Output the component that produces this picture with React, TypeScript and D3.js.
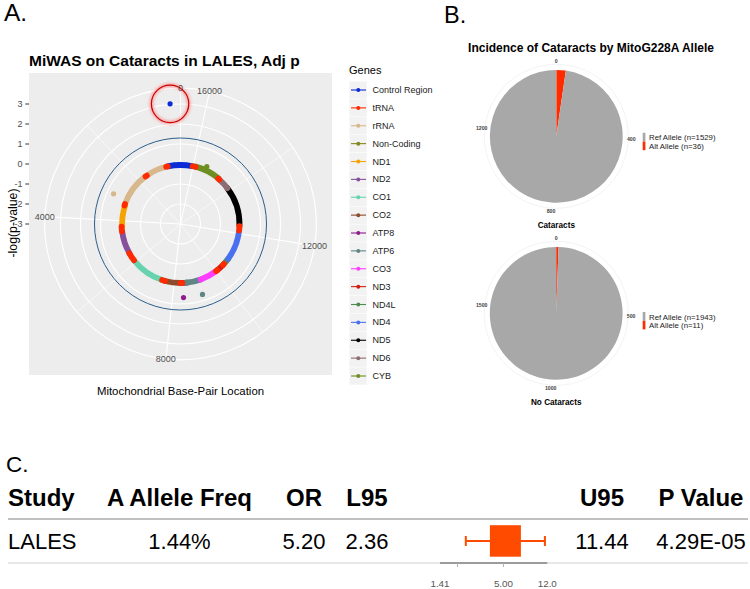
import React from "react";
import * as d3 from "d3";

// ---------- Panel A data ----------
const GENOME_LEN = 16569;
const GENES = ["Control Region", "tRNA", "rRNA", "Non-Coding", "ND1", "ND2", "CO1", "CO2", "ATP8", "ATP6", "CO3", "ND3", "ND4L", "ND4", "ND5", "ND6", "CYB"];
const GENE_COLORS = ["#0A2BD6", "#FF2A00", "#D8B78C", "#86881C", "#F5A300", "#86509A", "#66D2AE", "#8E4C2A", "#8E1E8E", "#5F8585", "#FF3DFF", "#D01E10", "#4E8C4E", "#4A70F0", "#000000", "#8E6D72", "#6E8E22"];

const SEG_GENE = ["Control Region", "rRNA", "rRNA", "ND1", "ND2", "CO1", "CO2", "ATP8", "ATP6", "CO3", "ND3", "ND4L", "ND4", "ND5", "ND6", "CYB", "Control Region",
  "tRNA", "tRNA", "tRNA", "tRNA", "tRNA", "tRNA", "tRNA", "tRNA", "tRNA", "tRNA", "tRNA", "tRNA"];
const SEG_START = [1, 648, 1671, 3307, 4470, 5904, 7586, 8366, 8527, 9207, 10059, 10470, 10760, 12337, 14149, 14747, 16024,
  577, 1602, 3230, 4263, 5512, 7446, 8295, 9991, 10405, 12138, 14674, 15888];
const SEG_END = [576, 1601, 3229, 4262, 5511, 7445, 8269, 8572, 9207, 9990, 10404, 10766, 12137, 14148, 14673, 15887, 16569,
  647, 1670, 3304, 4469, 5891, 7585, 8364, 10058, 10469, 12336, 14742, 16023];
const SEG_LOGP = [-0.05, -0.05, -0.05, -0.08, -0.06, -0.05, -0.05, -0.05, -0.05, -0.05, -0.05, -0.05, -0.05, -0.05, -0.05, -0.03, -0.05,
  -0.05, -0.05, -0.05, -0.05, -0.05, -0.05, -0.05, -0.05, -0.05, -0.05, -0.05, -0.05];

const PT_GENE = ["rRNA", "ATP8", "ATP6", "CYB", "Control Region"];
const PT_POS = [3024, 8392, 9082, 15437, 228];
const PT_LOGP = [0.67, 0.68, 0.69, 0.16, 3.03];

const R_BREAKS = [-3, -2, -1, 0, 1, 2, 3];
const THETA_MAJOR = [0, 4000, 8000, 12000, 16000];
const THETA_MINOR = [2000, 6000, 10000, 14000];
const SIG_LOGP = 1.3;
const HIGHLIGHT_POS = 228;
const HIGHLIGHT_LOGP = 3.03;

// ---------- Panel B data ----------
const PIE_GROUPS = ["Cataracts", "No Cataracts"];
const REF_COUNTS = [1529, 1943];
const ALT_COUNTS = [36, 11];
const PIE_TICKS = [[0, 400, 800, 1200], [0, 500, 1000, 1500]];
const PIE_COLORS = { ref: "#A8A8A8", alt: "#FF2A00" };

// ---------- Panel C data ----------
const HEADERS = ["Study", "A Allele Freq", "OR", "L95", "", "U95", "P Value"];
const STUDY = ["LALES"];
const FREQ = ["1.44%"];
const OR = [5.2];
const L95 = [2.36];
const U95 = [11.44];
const PVAL = ["4.29E-05"];
const FOREST_DOMAIN = [1.41, 12.0];
const FOREST_TICKS = [2, 5];
const FOREST_LABELS = [1.41, 5.0, 12.0];

const FONT = "'Liberation Sans', Arial, Helvetica, sans-serif";

function colorOf(g: string) {
  return GENE_COLORS[GENES.indexOf(g)];
}

export default function App() {
  // panel A geometry
  const pA = { x: 29, y: 73, w: 303, h: 302 };
  const cx = pA.x + pA.w / 2;
  const cy = pA.y + pA.h / 2;
  const rScale = d3.scaleLinear().domain([-3, 3]).range([0, 120]);
  const thScale = d3.scaleLinear().domain([0, GENOME_LEN]).range([0, 2 * Math.PI]);
  const outerR = 0.45 * pA.h;
  const polar = (pos: number, r: number): [number, number] => {
    const a = thScale(pos);
    return [cx - r * Math.sin(a), cy - r * Math.cos(a)];
  };
  const arcPath = (p0: number, p1: number, r: number) => {
    const p = d3.path();
    const a0 = -Math.PI / 2 - thScale(p0);
    const a1 = -Math.PI / 2 - thScale(p1);
    p.arc(cx, cy, r, a0, a1, true);
    return p.toString();
  };

  const segs = SEG_GENE.map((g, i) => ({ g, s: SEG_START[i], e: SEG_END[i], v: SEG_LOGP[i] }));
  const pts = PT_GENE.map((g, i) => ({ g, pos: PT_POS[i], v: PT_LOGP[i] }));
  const hl = polar(HIGHLIGHT_POS, rScale(HIGHLIGHT_LOGP));

  // panel B
  const pieCenters: [number, number][] = [[556.3, 136.3], [556.2, 313.3]];
  const pieR = 66.4;
  const pieLegendY = [137.8, 317.0];

  // panel C
  const fx = d3.scaleLog().domain(FOREST_DOMAIN).range([440, 547.3]);
  const colX = [8, 179.5, 304, 367, 0, 602, 701];
  const headerY = 505.5;
  const rowY = 549;

  return (
    <div style={{ width: 750, height: 589 }}>
      <style>{"body{margin:0;}"}</style>
      <svg width={750} height={589} style={{ display: "block", fontFamily: FONT }}>
        <defs>
          <clipPath id="clipA">
            <rect x={pA.x} y={pA.y} width={pA.w} height={pA.h} />
          </clipPath>
          <filter id="glow" x="-50%" y="-50%" width="200%" height="200%">
            <feGaussianBlur stdDeviation="1.8" />
          </filter>
        </defs>
        <rect x={0} y={0} width={750} height={589} fill="#ffffff" />

        {/* ================= Panel A ================= */}
        <text x={4} y={21} fontSize={24.5} fill="#000">A.</text>
        <text x={29} y={66} fontSize={15.5} fontWeight="bold" fill="#000">MiWAS on Cataracts in LALES, Adj p</text>

        <rect x={pA.x} y={pA.y} width={pA.w} height={pA.h} fill="#EDEDED" />
        <g clipPath="url(#clipA)">
          {R_BREAKS.filter((b) => rScale(b) > 0).map((b) => (
            <circle key={"rc" + b} cx={cx} cy={cy} r={rScale(b)} fill="none" stroke="#ffffff" strokeWidth={1.1} />
          ))}
          <circle cx={cx} cy={cy} r={outerR} fill="none" stroke="#ffffff" strokeWidth={1.1} />
          {THETA_MINOR.map((t) => {
            const [x2, y2] = polar(t, outerR);
            return <line key={"tm" + t} x1={cx} y1={cy} x2={x2} y2={y2} stroke="#ffffff" strokeWidth={0.6} />;
          })}
          {THETA_MAJOR.map((t) => {
            const [x2, y2] = polar(t, outerR);
            return <line key={"tM" + t} x1={cx} y1={cy} x2={x2} y2={y2} stroke="#ffffff" strokeWidth={1.1} />;
          })}
          <circle cx={cx} cy={cy} r={rScale(SIG_LOGP)} fill="none" stroke="#2C5D8C" strokeWidth={1} />
          {segs.map((s, i) => (
            <path key={"seg" + i} d={arcPath(s.s, s.e, rScale(s.v))} fill="none" stroke={colorOf(s.g)} strokeWidth={5.8} strokeLinecap="round" />
          ))}
          {pts.map((p, i) => {
            const [x, y] = polar(p.pos, rScale(p.v));
            return <circle key={"pt" + i} cx={x} cy={y} r={2.6} fill={colorOf(p.g)} />;
          })}
        </g>
        <circle cx={hl[0]} cy={hl[1]} r={18.7} fill="none" stroke="#FF6A6A" strokeWidth={3.5} opacity={0.6} filter="url(#glow)" />
        <circle cx={hl[0]} cy={hl[1]} r={18.7} fill="none" stroke="#CC0000" strokeWidth={1.2} />

        {THETA_MAJOR.map((t) => {
          const [x, y] = polar(t, outerR);
          return (
            <text key={"tl" + t} x={x} y={y} fontSize={9} fill="#4D4D4D" textAnchor="middle" dominantBaseline="central">{t}</text>
          );
        })}
        {R_BREAKS.map((b) => {
          const y = cy - rScale(b);
          return (
            <g key={"ra" + b}>
              <line x1={25.3} x2={29} y1={y} y2={y} stroke="#333" strokeWidth={1} />
              <text x={22.5} y={y} fontSize={9} fill="#4D4D4D" textAnchor="end" dominantBaseline="central">{b}</text>
            </g>
          );
        })}
        <text transform={`translate(12.5,${cy - 1}) rotate(-90)`} fontSize={12.3} textAnchor="middle" dominantBaseline="central" fill="#000">-log(p-value)</text>
        <text x={cx} y={395} fontSize={11.4} textAnchor="middle" fill="#000">Mitochondrial Base-Pair Location</text>

        <text x={349} y={74} fontSize={11} fill="#000">Genes</text>
        {GENES.map((g, i) => {
          const y = 90 + i * 17.875;
          return (
            <g key={"lg" + g}>
              <rect x={349.5} y={y - 8.6} width={17.3} height={17.3} fill="#F2F2F2" />
              <line x1={351} x2={366} y1={y} y2={y} stroke={GENE_COLORS[i]} strokeWidth={1.1} />
              <circle cx={358.3} cy={y} r={2} fill={GENE_COLORS[i]} />
              <text x={372.5} y={y} fontSize={9} fill="#1A1A1A" dominantBaseline="central">{g}</text>
            </g>
          );
        })}

        {/* ================= Panel B ================= */}
        <text x={444} y={23} fontSize={23.5} fill="#000">B.</text>
        <text x={591} y={52} fontSize={12} fontWeight="bold" textAnchor="middle" fill="#000">Incidence of Cataracts by MitoG228A Allele</text>
        {PIE_GROUPS.map((grp, gi) => {
          const [pcx, pcy] = pieCenters[gi];
          const total = REF_COUNTS[gi] + ALT_COUNTS[gi];
          const values = [ALT_COUNTS[gi], REF_COUNTS[gi]];
          const cols = [PIE_COLORS.alt, PIE_COLORS.ref];
          const arcs = d3.pie<number>().sort(null).value((d) => d)(values);
          const arcGen = d3.arc<d3.PieArcDatum<number>>().innerRadius(0).outerRadius(pieR);
          const ang = d3.scaleLinear().domain([0, total]).range([0, 2 * Math.PI]);
          const ly = pieLegendY[gi];
          return (
            <g key={"pie" + gi}>
              <circle cx={pcx} cy={pcy} r={72} fill="none" stroke="#F4F4F4" strokeWidth={1} />
              <g transform={`translate(${pcx},${pcy})`}>
                {arcs.map((a, i) => (
                  <path key={i} d={arcGen(a) as string} fill={cols[i]} />
                ))}
              </g>
              {PIE_TICKS[gi].map((t) => {
                const a = ang(t);
                return (
                  <text key={"pt" + t} x={pcx + 75 * Math.sin(a)} y={pcy - 75 * Math.cos(a)} fontSize={5.2} fontWeight="bold" fill="#444" textAnchor="middle" dominantBaseline="central">{t}</text>
                );
              })}
              <text x={pcx} y={pcy + 92} fontSize={8.2} fontWeight="bold" textAnchor="middle" fill="#000">{grp}</text>
              <rect x={642.7} y={ly - 5} width={2.7} height={8.8} fill={PIE_COLORS.ref} />
              <rect x={642.7} y={ly + 3.8} width={2.7} height={8.6} fill={PIE_COLORS.alt} />
              <text x={649} y={ly} fontSize={7.8} fill="#222" dominantBaseline="central">{`Ref Allele (n=${REF_COUNTS[gi]})`}</text>
              <text x={649} y={ly + 8.9} fontSize={7.8} fill="#222" dominantBaseline="central">{`Alt Allele (n=${ALT_COUNTS[gi]})`}</text>
            </g>
          );
        })}

        {/* ================= Panel C ================= */}
        <text x={6} y={472} fontSize={22.5} fill="#000">C.</text>
        {HEADERS.map((h, i) =>
          h ? (
            <text key={"h" + i} x={colX[i]} y={headerY} fontSize={24} fontWeight="bold" fill="#000" textAnchor={i === 0 ? "start" : "middle"}>{h}</text>
          ) : null
        )}
        <line x1={8} x2={748} y1={519} y2={519} stroke="#ABABAB" strokeWidth={1.6} />
        <line x1={8} x2={748} y1={563} y2={563} stroke="#E0E0E0" strokeWidth={1.4} />
        {STUDY.map((s, i) => (
          <g key={"row" + i}>
            <text x={colX[0]} y={rowY} fontSize={22} fill="#000">{s}</text>
            <text x={colX[1]} y={rowY} fontSize={22} fill="#000" textAnchor="middle">{FREQ[i]}</text>
            <text x={colX[2]} y={rowY} fontSize={22} fill="#000" textAnchor="middle">{OR[i].toFixed(2)}</text>
            <text x={colX[3]} y={rowY} fontSize={22} fill="#000" textAnchor="middle">{L95[i].toFixed(2)}</text>
            <text x={colX[5]} y={rowY} fontSize={22} fill="#000" textAnchor="middle">{U95[i].toFixed(2)}</text>
            <text x={colX[6]} y={rowY} fontSize={22} fill="#000" textAnchor="middle">{PVAL[i]}</text>
            <line x1={fx(L95[i])} x2={fx(U95[i])} y1={541} y2={541} stroke="#FF4B00" strokeWidth={2} />
            <line x1={fx(L95[i])} x2={fx(L95[i])} y1={536} y2={546} stroke="#FF4B00" strokeWidth={2} />
            <line x1={fx(U95[i])} x2={fx(U95[i])} y1={536} y2={546} stroke="#FF4B00" strokeWidth={2} />
            <rect x={fx(OR[i]) - 15.5} y={525.2} width={31} height={31.5} fill="#FF4B00" />
          </g>
        ))}
        <line x1={fx(FOREST_DOMAIN[0])} x2={fx(FOREST_DOMAIN[1])} y1={563} y2={563} stroke="#9C9C9C" strokeWidth={2} />
        {FOREST_TICKS.map((t) => (
          <line key={"ft" + t} x1={fx(t)} x2={fx(t)} y1={563} y2={567} stroke="#B0B0B0" strokeWidth={1} />
        ))}
        {FOREST_LABELS.map((t) => (
          <text key={"fl" + t} x={fx(t)} y={587} fontSize={9.8} fill="#555" textAnchor="middle">{t.toFixed(t >= 10 ? 1 : 2)}</text>
        ))}
      </svg>
    </div>
  );
}
